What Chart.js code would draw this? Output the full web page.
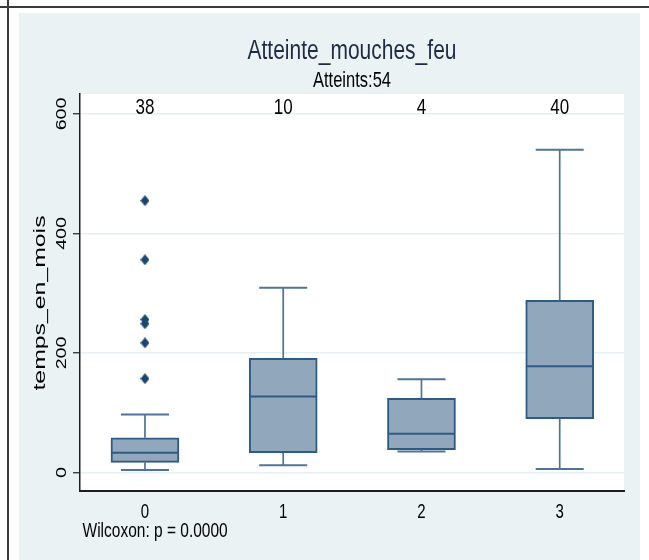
<!DOCTYPE html>
<html>
<head>
<meta charset="utf-8">
<script src="https://cdn.jsdelivr.net/npm/chart.js@4"></script>
<style>
  html, body { margin: 0; padding: 0; background: #fff; }
  #page { position: relative; width: 649px; height: 560px; overflow: hidden; }
  #vline { position: absolute; left: 7px; top: 0; width: 2px; height: 560px; background: #3a3a3a; }
  #hline { position: absolute; left: 0; top: 6px; width: 649px; height: 2px; background: #3a3a3a; }
  #panel { position: absolute; left: 19px; top: 13px; width: 621px; height: 547px; background: #eaf2f3; }
  #chart { position: absolute; left: 0; top: 0; }
</style>
</head>
<body>
<div id="page">
  <div id="panel"></div>
  <div id="vline"></div>
  <div id="hline"></div>
  <canvas id="chart" width="649" height="560"></canvas>
</div>
<script>
// Box plot of temps_en_mois by group (Stata-style look)

const groups = [0, 1, 2, 3];
const groupLabels = ['0', '1', '2', '3'];
const counts = ['38', '10', '4', '40'];

const whiskerLow = [4, 12, 35, 6];
const q1 = [17, 33, 38, 90];
const median = [33, 127, 65, 178];
const q3 = [58, 191, 124, 288];
const whiskerHigh = [97, 309, 156, 540];

// outside values (all in group 0)
const outlierGroup = [0, 0, 0, 0, 0, 0];
const outlierValues = [455, 356, 256, 249, 217, 157];

const yTicks = [0, 200, 400, 600];

const titleText = 'Atteinte_mouches_feu';
const subtitleText = 'Atteints:54';
const yTitle = 'temps_en_mois';
const noteText = 'Wilcoxon: p = 0.0000';

const NAVY = '#1a476f';
const BOX_FILL = '#91a7bb';
const BOX_LINE = '#2f5a82';
const WHISKER = '#4f7498';
const FONT = '"Liberation Sans", Arial, sans-serif';
const STRETCH = 1.33; // text in the original is taller than it is wide

// diamond marker, a bit taller than wide
const diamond = document.createElement('canvas');
diamond.width = 9;
diamond.height = 11;
(function () {
  const c = diamond.getContext('2d');
  c.fillStyle = NAVY;
  c.beginPath();
  c.moveTo(4.5, 0);
  c.lineTo(9, 5.5);
  c.lineTo(4.5, 11);
  c.lineTo(0, 5.5);
  c.closePath();
  c.fill();
})();

function drawText(ctx, str, x, y, opt) {
  ctx.save();
  ctx.translate(x, y);
  ctx.scale(1, opt.stretch || STRETCH);
  if (opt.rotate) ctx.rotate(-Math.PI / 2);
  ctx.font = opt.size + 'px ' + FONT;
  ctx.fillStyle = opt.color || '#000';
  ctx.textAlign = opt.align || 'center';
  ctx.textBaseline = 'alphabetic';
  ctx.fillText(str, 0, 0);
  ctx.restore();
}

const boxPlugin = {
  id: 'boxExtras',
  beforeDraw(chart) {
    const { ctx, chartArea: a } = chart;
    ctx.save();
    ctx.fillStyle = '#ffffff';
    ctx.fillRect(a.left, a.top, a.right - a.left, a.bottom - a.top);
    ctx.restore();
  },
  afterDatasetsDraw(chart) {
    const { ctx } = chart;
    const xs = chart.scales.x;
    const ys = chart.scales.y;
    const boxHalf = 34;
    const capHalf = 24;
    ctx.save();
    groups.forEach((g, i) => {
      const cx = xs.getPixelForValue(g);
      // whiskers
      ctx.strokeStyle = WHISKER;
      ctx.lineWidth = 1.7;
      ctx.beginPath();
      ctx.moveTo(cx, ys.getPixelForValue(q3[i]));
      ctx.lineTo(cx, ys.getPixelForValue(whiskerHigh[i]));
      ctx.moveTo(cx, ys.getPixelForValue(q1[i]));
      ctx.lineTo(cx, ys.getPixelForValue(whiskerLow[i]));
      ctx.stroke();
      // caps
      ctx.lineWidth = 2;
      ctx.beginPath();
      const yh = ys.getPixelForValue(whiskerHigh[i]);
      const yl = ys.getPixelForValue(whiskerLow[i]);
      ctx.moveTo(cx - capHalf, yh);
      ctx.lineTo(cx + capHalf, yh);
      ctx.moveTo(cx - capHalf, yl);
      ctx.lineTo(cx + capHalf, yl);
      ctx.stroke();
      // median
      ctx.strokeStyle = BOX_LINE;
      ctx.lineWidth = 2;
      const ym = ys.getPixelForValue(median[i]);
      ctx.beginPath();
      ctx.moveTo(cx - boxHalf + 1, ym);
      ctx.lineTo(cx + boxHalf - 1, ym);
      ctx.stroke();
    });
    ctx.restore();
  },
  afterDraw(chart) {
    const { ctx, chartArea: a } = chart;
    const xs = chart.scales.x;
    const ys = chart.scales.y;
    const mid = (a.left + a.right) / 2;

    drawText(ctx, titleText, mid, 59, { size: 21, color: '#1e2b45' });
    drawText(ctx, subtitleText, mid, 87, { size: 16.5 });

    groups.forEach((g, i) => {
      const cx = xs.getPixelForValue(g);
      drawText(ctx, counts[i], cx, 114, { size: 17 });
      drawText(ctx, groupLabels[i], cx, 518, { size: 15 });
    });

    yTicks.forEach(v => {
      drawText(ctx, String(v), 66, ys.getPixelForValue(v), { size: 14, rotate: true, stretch: 1.4 });
    });
    drawText(ctx, yTitle, 45, 303, { size: 16, rotate: true, stretch: 1.55 });

    drawText(ctx, noteText, 82.5, 537, { size: 15.5, align: 'left' });
  }
};

const chart = new Chart(document.getElementById('chart'), {
  type: 'bar',
  data: {
    datasets: [
      {
        type: 'bar',
        label: 'box',
        data: groups.map((g, i) => ({ x: g, y: [q1[i], q3[i]] })),
        backgroundColor: BOX_FILL,
        borderColor: BOX_LINE,
        borderWidth: 2,
        borderSkipped: false,
        barThickness: 68,
        grouped: false
      },
      {
        type: 'scatter',
        label: 'outside values',
        data: outlierValues.map((v, i) => ({ x: groups[outlierGroup[i]], y: v })),
        pointStyle: diamond,
        pointRadius: 5
      }
    ]
  },
  options: {
    responsive: false,
    animation: false,
    devicePixelRatio: 1,
    layout: { padding: { top: 94, left: 20, right: 25, bottom: 39 } },
    plugins: {
      legend: { display: false },
      tooltip: { enabled: false },
      title: { display: false }
    },
    scales: {
      x: {
        type: 'linear',
        min: -0.47,
        max: 3.465,
        offset: false,
        afterBuildTicks: (s) => { s.ticks = groups.map(v => ({ value: v })); },
        afterFit: (s) => { s.height = 30; },
        grid: { display: false, offset: false },
        border: { display: true, color: '#1e1e1e', width: 2 },
        ticks: { display: false }
      },
      y: {
        type: 'linear',
        min: -31,
        max: 633.5,
        afterBuildTicks: (s) => { s.ticks = yTicks.map(v => ({ value: v })); },
        afterFit: (s) => { s.width = 60; },
        grid: {
          color: '#e6eff1',
          lineWidth: 1.5,
          drawTicks: true,
          tickLength: 7,
          tickColor: '#222',
          tickWidth: 1.2
        },
        border: { display: true, color: '#1e1e1e', width: 1.5 },
        ticks: { display: false }
      }
    }
  },
  plugins: [boxPlugin]
});
</script>
</body>
</html>
